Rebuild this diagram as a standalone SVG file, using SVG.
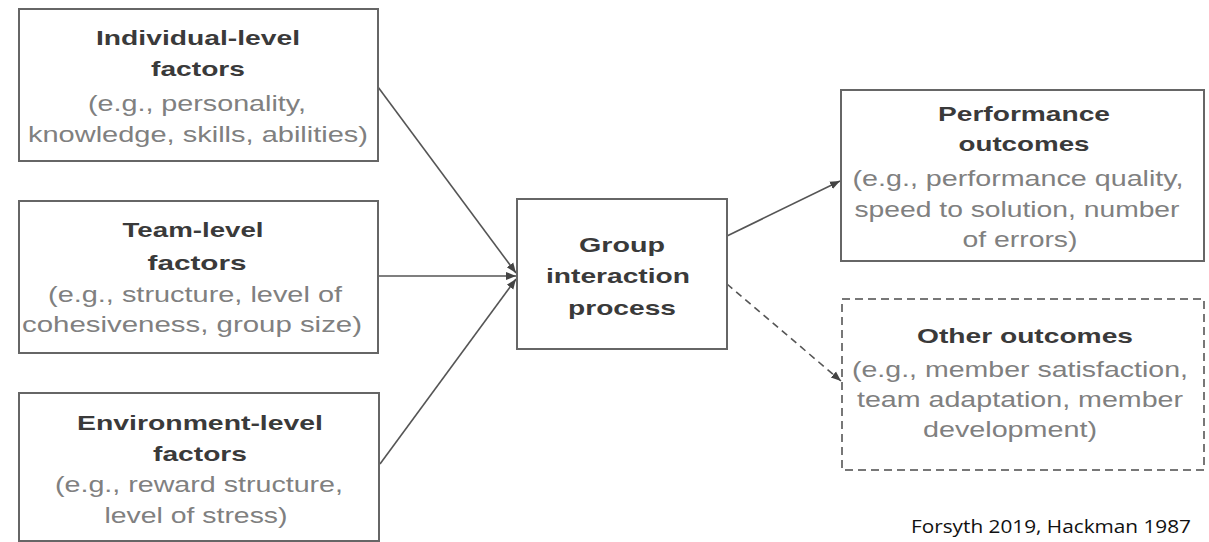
<svg xmlns="http://www.w3.org/2000/svg" width="1209" height="542" viewBox="0 0 1209 542">
<style>
.box{fill:#fff;stroke:#666;stroke-width:2}
.dbox{fill:#fff;stroke:#777;stroke-width:2;stroke-dasharray:8 5}
.t{font-family:"Liberation Sans",Arial,sans-serif;font-weight:bold;font-size:21px;fill:#3a3a3a;text-anchor:middle}
.d{font-family:"Liberation Sans",Arial,sans-serif;font-size:22px;fill:#808080;text-anchor:middle}
.c{stroke:#555;stroke-width:1.6;fill:none}
.cd{stroke:#555;stroke-width:1.6;fill:none;stroke-dasharray:7 5}
.src{font-family:"Open Sans","Liberation Sans",sans-serif;font-size:19px;fill:#111}
</style>
<defs>
<marker id="ah" viewBox="0 0 10 10" refX="10" refY="5" markerWidth="10" markerHeight="10" markerUnits="userSpaceOnUse" orient="auto">
<path d="M0,1 L10,5 L0,9 Z" fill="#444"/>
</marker>
</defs>
<rect width="1209" height="542" fill="#fff"/>
<g id="connectors">
<line class="c" x1="378" y1="87" x2="516" y2="273" marker-end="url(#ah)"/>
<line class="c" x1="379" y1="276" x2="516" y2="276" marker-end="url(#ah)"/>
<line class="c" x1="380" y1="464" x2="516" y2="279" marker-end="url(#ah)"/>
<line class="c" x1="727" y1="236" x2="840" y2="181" marker-end="url(#ah)"/>
<line class="cd" x1="727" y1="284" x2="841" y2="381" marker-end="url(#ah)"/>
</g>
<g id="individual">
<rect class="box" x="19" y="9" width="359" height="152"/>
<text class="t" x="198" y="45" textLength="204" lengthAdjust="spacingAndGlyphs">Individual-level</text>
<text class="t" x="198" y="76" textLength="94" lengthAdjust="spacingAndGlyphs">factors</text>
<text class="d" x="197" y="111" textLength="218" lengthAdjust="spacingAndGlyphs">(e.g., personality,</text>
<text class="d" x="198" y="142" textLength="340" lengthAdjust="spacingAndGlyphs">knowledge, skills, abilities)</text>
</g>
<g id="team">
<rect class="box" x="19" y="201" width="359" height="152"/>
<text class="t" x="193" y="237" textLength="141" lengthAdjust="spacingAndGlyphs">Team-level</text>
<text class="t" x="197" y="270" textLength="99" lengthAdjust="spacingAndGlyphs">factors</text>
<text class="d" x="195" y="302" textLength="294" lengthAdjust="spacingAndGlyphs">(e.g., structure, level of</text>
<text class="d" x="192" y="332" textLength="340" lengthAdjust="spacingAndGlyphs">cohesiveness, group size)</text>
</g>
<g id="environment">
<rect class="box" x="19" y="393" width="360" height="148"/>
<text class="t" x="200" y="430" textLength="246" lengthAdjust="spacingAndGlyphs">Environment-level</text>
<text class="t" x="200" y="461" textLength="94" lengthAdjust="spacingAndGlyphs">factors</text>
<text class="d" x="199" y="492" textLength="288" lengthAdjust="spacingAndGlyphs">(e.g., reward structure,</text>
<text class="d" x="196" y="523" textLength="183" lengthAdjust="spacingAndGlyphs">level of stress)</text>
</g>
<g id="group">
<rect class="box" x="517" y="199" width="210" height="150"/>
<text class="t" x="622" y="252" textLength="86" lengthAdjust="spacingAndGlyphs">Group</text>
<text class="t" x="618" y="283" textLength="144" lengthAdjust="spacingAndGlyphs">interaction</text>
<text class="t" x="622" y="315" textLength="108" lengthAdjust="spacingAndGlyphs">process</text>
</g>
<g id="performance">
<rect class="box" x="841" y="90" width="363" height="171"/>
<text class="t" x="1024" y="121" textLength="172" lengthAdjust="spacingAndGlyphs">Performance</text>
<text class="t" x="1024" y="151" textLength="131" lengthAdjust="spacingAndGlyphs">outcomes</text>
<text class="d" x="1018" y="186" textLength="331" lengthAdjust="spacingAndGlyphs">(e.g., performance quality,</text>
<text class="d" x="1017" y="217" textLength="325" lengthAdjust="spacingAndGlyphs">speed to solution, number</text>
<text class="d" x="1020" y="247" textLength="115" lengthAdjust="spacingAndGlyphs">of errors)</text>
</g>
<g id="other">
<rect class="dbox" x="842" y="299" width="362" height="171"/>
<text class="t" x="1025" y="343" textLength="216" lengthAdjust="spacingAndGlyphs">Other outcomes</text>
<text class="d" x="1020" y="377" textLength="336" lengthAdjust="spacingAndGlyphs">(e.g., member satisfaction,</text>
<text class="d" x="1020" y="407" textLength="326" lengthAdjust="spacingAndGlyphs">team adaptation, member</text>
<text class="d" x="1010" y="437" textLength="174" lengthAdjust="spacingAndGlyphs">development)</text>
</g>
<text class="src" x="911" y="533" textLength="280" lengthAdjust="spacingAndGlyphs">Forsyth 2019, Hackman 1987</text>
</svg>
